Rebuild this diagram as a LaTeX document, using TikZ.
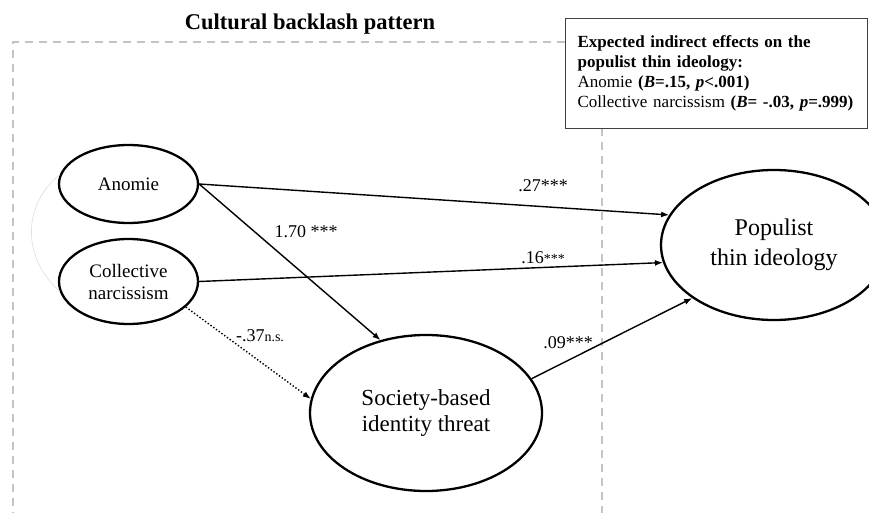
\documentclass[tikz,border=0pt]{standalone}
\usepackage{fontspec}
\setmainfont{Liberation Serif}
\usetikzlibrary{arrows.meta,shapes.geometric}
\definecolor{dashgray}{HTML}{C4C4C4}
\definecolor{arcgray}{HTML}{E4E4E4}
\definecolor{boxgray}{HTML}{404040}
\begin{document}
\begin{tikzpicture}[x=1pt,y=-1pt,
  latent/.style={ellipse,draw,line width=2.3pt,inner sep=0pt,align=center},
  path/.style={line width=1.4pt,-{Latex[length=8pt,width=6pt]}},
  nspath/.style={line width=1.4pt,dotted,-{Latex[length=8pt,width=6pt]}},
  coef/.style={inner sep=0pt,font=\fontsize{18}{20}\selectfont},
  region/.style={dashgray,line width=1.8pt,dash pattern=on 8pt off 6pt}]
\useasboundingbox (0,0) rectangle (869,513);
% region
\coordinate (r1) at (565,42);
\coordinate (r2) at (13,42);
\coordinate (r3) at (13,513);
\coordinate (r4) at (602,128);
\coordinate (r5) at (602,513);
\draw[region] (r1) -- (r2) -- (r3);
\draw[region] (r4) -- (r5);
\node[anchor=base,font=\fontsize{22.5}{27}\selectfont\bfseries] (title) at (310,30) {Cultural backlash pattern};
% info box
\node[draw=boxgray,line width=1.3pt,anchor=north west,inner xsep=12pt,inner ysep=0pt,
  text width=278pt,minimum height=110pt,align=left,
  font=\fontsize{17}{20}\selectfont] (box) at (565,18)
  {\textbf{Expected indirect effects on the}\\
   \textbf{populist thin ideology:}\\
   Anomie \textbf{(\textit{B}=.15, \textit{p}<.001)}\\
   Collective narcissism \textbf{(\textit{B}= -.03, \textit{p}=.999)}};
% latent variables
\node[latent,minimum width=139pt,minimum height=78pt,font=\fontsize{19}{22}\selectfont] (A) at (128.5,184) {Anomie};
\node[latent,minimum width=139pt,minimum height=85pt,font=\fontsize{19}{22}\selectfont] (C) at (128.5,281.5) {Collective\\narcissism};
\node[latent,minimum width=232pt,minimum height=156pt,font=\fontsize{23}{26}\selectfont] (S) at (426,413) {Society-based\\identity threat};
\node[latent,minimum width=226pt,minimum height=150pt,font=\fontsize{24}{30}\selectfont] (P) at (774,245) {Populist\\thin ideology};
% covariance arc
\draw[arcgray,line width=0.8pt] (A.172) .. controls (22,205) and (22,258) .. (C.188);
% paths
\draw[path] (A.east) -- (P.164);
\draw[path] (C.east) -- (P.189);
\draw[path] (A.east) -- (S.122);
\draw[nspath] (C.336) -- (S.173);
\draw[path] (S.18) -- (P.213);
% coefficients
\node[coef] (c1) at (543,186) {.27***};
\node[coef] (c2) at (543,258) {.16{\fontsize{14}{16}\selectfont***}};
\node[coef] (c3) at (306,232) {1.70 ***};
\node[coef] (c4) at (260,336) {-.37{\fontsize{14}{16}\selectfont n.s.}};
\node[coef] (c5) at (568,343) {.09***};
\end{tikzpicture}
\end{document}
